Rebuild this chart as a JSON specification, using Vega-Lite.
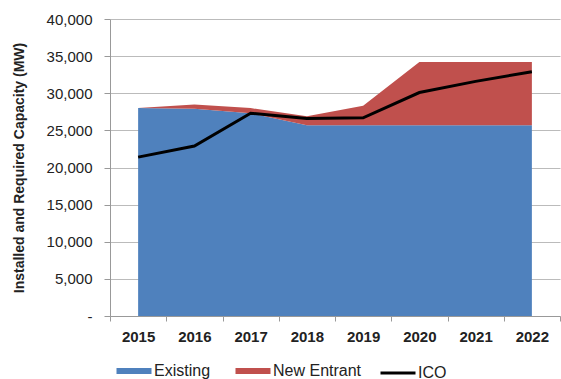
{
  "$schema": "https://vega.github.io/schema/vega-lite/v6.json",
  "width": 450,
  "height": 297,
  "padding": {"left": 12, "top": 12, "right": 0, "bottom": 5},
  "background": "white",
  "config": {
    "font": "Liberation Sans",
    "view": {"stroke": null},
    "axis": {"labelFont": "Liberation Sans", "labelColor": "#222", "labelFontSize": 15, "domainColor": "#999", "tickColor": "#999", "gridColor": "#bbb"}
  },
  "data": {
    "values": [
      {"year": "2015", "series": "Existing", "value": 28000},
      {"year": "2016", "series": "Existing", "value": 27900},
      {"year": "2017", "series": "Existing", "value": 27300},
      {"year": "2018", "series": "Existing", "value": 25700},
      {"year": "2019", "series": "Existing", "value": 25700},
      {"year": "2020", "series": "Existing", "value": 25700},
      {"year": "2021", "series": "Existing", "value": 25700},
      {"year": "2022", "series": "Existing", "value": 25700},
      {"year": "2015", "series": "New Entrant", "value": 0},
      {"year": "2016", "series": "New Entrant", "value": 600},
      {"year": "2017", "series": "New Entrant", "value": 700},
      {"year": "2018", "series": "New Entrant", "value": 1200},
      {"year": "2019", "series": "New Entrant", "value": 2600},
      {"year": "2020", "series": "New Entrant", "value": 8500},
      {"year": "2021", "series": "New Entrant", "value": 8500},
      {"year": "2022", "series": "New Entrant", "value": 8500},
      {"year": "2015", "series": "ICO", "value": 21400},
      {"year": "2016", "series": "ICO", "value": 22900},
      {"year": "2017", "series": "ICO", "value": 27300},
      {"year": "2018", "series": "ICO", "value": 26600},
      {"year": "2019", "series": "ICO", "value": 26700},
      {"year": "2020", "series": "ICO", "value": 30100},
      {"year": "2021", "series": "ICO", "value": 31600},
      {"year": "2022", "series": "ICO", "value": 32900}
    ]
  },
  "encoding": {
    "x": {
      "field": "year", "type": "ordinal", "bandPosition": 0.5,
      "scale": {"paddingInner": 0, "paddingOuter": 0},
      "axis": {"title": null, "labelAngle": 0, "tickBand": "extent", "labelFontWeight": "bold", "labelPadding": 8, "tickSize": 5, "grid": false}
    },
    "y": {
      "field": "value", "type": "quantitative",
      "scale": {"domain": [0, 40000], "nice": false},
      "axis": {
        "title": "Installed and Required Capacity (MW)",
        "titleFontSize": 14, "titleFontWeight": "bold", "titleColor": "#222", "titlePadding": 20,
        "values": [0, 5000, 10000, 15000, 20000, 25000, 30000, 35000, 40000],
        "labelExpr": "datum.value === 0 ? '-' : format(datum.value, ',')",
        "tickSize": 6, "labelPadding": 12
      }
    },
    "color": {
      "field": "series", "type": "nominal",
      "scale": {"domain": ["Existing", "New Entrant", "ICO"], "range": ["#4F81BD", "#C0504D", "#000000"]},
      "legend": {
        "title": null, "orient": "none", "legendX": 16, "legendY": 344, "direction": "horizontal",
        "symbolType": "stroke", "symbolSize": 1225, "symbolStrokeWidth": 6,
        "labelFontSize": 16, "labelColor": "#222", "labelFont": "Liberation Sans",
        "columnPadding": 12, "labelOffset": 12, "padding": 0,
        "encode": {"symbols": {"update": {"strokeWidth": {"signal": "datum.value === 'ICO' ? 3 : 6"}}}}
      }
    }
  },
  "layer": [
    {
      "transform": [{"filter": "datum.series !== 'ICO'"}],
      "mark": {"type": "area", "opacity": 1},
      "encoding": {"y": {"field": "value", "type": "quantitative", "stack": "zero"}, "order": {"field": "series", "sort": "ascending"}}
    },
    {
      "transform": [{"filter": "datum.series === 'ICO'"}],
      "mark": {"type": "line", "strokeWidth": 3, "color": "#000"},
      "encoding": {}
    }
  ]
}
